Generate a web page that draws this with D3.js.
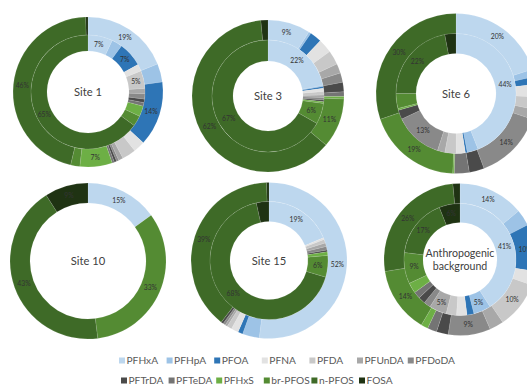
<!DOCTYPE html>
<html><head><meta charset="utf-8">
<script src="https://cdn.jsdelivr.net/npm/d3@7"></script>
<style>body{margin:0;background:#fff;overflow:hidden} svg{display:block}</style>
</head><body>
<svg id="c" width="527" height="386"></svg>
<script>
// ---------- data ----------
const categories = ["PFHxA","PFHpA","PFOA","PFNA","PFDA","PFUnDA","PFDoDA","PFTrDA","PFTeDA","PFHxS","br-PFOS","n-PFOS","FOSA"];
const colors = ["#BDD7EE","#9DC3E6","#2E75B6","#E2E2E2","#C8C8C8","#A8A8A8","#898989","#4A4A4A","#747474","#6DAF45","#548B33","#3E6A27","#1F3313"];
const siteNames = ["Site 1","Site 3","Site 6","Site 10","Site 15","Anthropogenic background"];

const site1Outer = [19, 4, 14, 2.5, 3, 1, 0.5, 0.5, 0.5, 7, 2, 46, 0.5];
const site1Inner = [7, 3, 7, 2, 5, 1.5, 1.5, 1, 1, 3, 3, 65, 0];
const site3Outer = [9, 0.5, 2.5, 3, 3, 2, 2, 2, 1, 0.5, 10.5, 62, 1.5];
const site3Inner = [22, 0.3, 0.5, 1, 1, 0.7, 0.7, 0.5, 0, 0.5, 6, 67, 0];
const site6Outer = [20, 1.5, 1.5, 2.5, 2.5, 2, 14, 3, 3, 0.3, 19, 30, 0];
const site6Inner = [44, 3, 0.5, 2.5, 3, 2, 13, 2.5, 0, 0.5, 4, 22, 3];
const site10Outer = [15, 0, 0, 0, 0, 0, 0, 0, 0, 0, 33, 43, 9];
const site15Outer = [52, 3.5, 1, 1.5, 1, 0.5, 0.5, 0.5, 0, 0, 0, 39, 0.5];
const site15Inner = [19, 0, 0, 0.5, 1, 1, 1, 0.5, 0, 1, 6, 68, 3.5];
const anthroOuter = [14, 3.5, 10, 3, 10, 3, 9, 2.5, 2, 1.5, 14, 26, 1.5];
const anthroInner = [41, 5, 2, 3, 3, 5, 2, 2, 2, 3, 9, 17, 6];

// ---------- layout ----------
const charts = [
  {name: siteNames[0], outer: site1Outer, inner: site1Inner, cx: 88, cy: 92, r0: 41, r1: 57, r2: 75},
  {name: siteNames[1], outer: site3Outer, inner: site3Inner, cx: 268, cy: 96, r0: 35, r1: 56, r2: 76},
  {name: siteNames[2], outer: site6Outer, inner: site6Inner, cx: 456, cy: 93.5, r0: 40, r1: 60, r2: 80},
  {name: siteNames[3], outer: site10Outer, inner: null, cx: 88, cy: 261, r0: 58, r1: 58, r2: 78},
  {name: siteNames[4], outer: site15Outer, inner: site15Inner, cx: 269, cy: 260.5, r0: 39, r1: 59, r2: 78},
  {name: siteNames[5], outer: anthroOuter, inner: anthroInner, cx: 460, cy: 259.5, r0: 37, r1: 56, r2: 76}
];

const svg = d3.select("#c");
const color = d3.scaleOrdinal().domain(categories).range(colors);
const pie = d3.pie().sort(null).value(d => d.v);
const FONT = "Lato, 'Open Sans', sans-serif";

function drawRing(g, values, rIn, rOut) {
  const data = values.map((v, i) => ({cat: categories[i], v}));
  const arcs = pie(data).filter(a => a.data.v > 0);
  const arc = d3.arc().innerRadius(rIn).outerRadius(rOut);
  g.selectAll(null).data(arcs).enter().append("path")
    .attr("d", arc)
    .attr("fill", d => color(d.data.cat))
    .attr("stroke", "#ffffff").attr("stroke-width", 0.35).attr("stroke-opacity", 0.3);
  g.selectAll(null).data(arcs.filter(a => a.data.v >= 5)).enter().append("text")
    .attr("transform", d => `translate(${arc.centroid(d)})`)
    .attr("text-anchor", "middle").attr("dy", "0.35em")
    .attr("font-family", FONT).attr("font-size", 6.8).attr("fill", "#333333")
    .text(d => Math.round(d.data.v) + "%");
}

charts.forEach(c => {
  const g = svg.append("g").attr("transform", `translate(${c.cx},${c.cy})`);
  drawRing(g, c.outer, c.r1, c.r2);
  if (c.inner) drawRing(g, c.inner, c.r0, c.r1);
  const words = c.name.length > 12 ? ["Anthropogenic", "background"] : [c.name];
  const t = g.append("text").attr("text-anchor", "middle")
    .attr("font-family", FONT).attr("font-size", words.length > 1 ? 10.6 : 11.2).attr("fill", "#404040");
  words.forEach((w, i) => {
    t.append("tspan").attr("x", 0)
      .attr("y", (i - (words.length - 1) / 2) * 13.5 + 4)
      .text(w);
  });
});

// ---------- legend ----------
const leg = svg.append("g").attr("font-family", FONT).attr("font-size", 10.2).attr("fill", "#595959");
const rows = [categories.slice(0, 7), categories.slice(7)];
const rowY = [361, 381];
rows.forEach((row, ri) => {
  let prevEnd = 0;
  row.forEach((cat, i) => {
    let x = (ri === 0 ? 119 : 121) + i * 47.6;
    if (i === 6) x = prevEnd + 4;
    const it = leg.append("g").attr("transform", `translate(${x},${rowY[ri]})`);
    it.append("rect").attr("x", 0).attr("y", -3.5).attr("width", 6).attr("height", 6).attr("fill", color(cat));
    const tx = it.append("text").attr("x", 7.5).attr("dy", "0.33em").text(cat);
    prevEnd = x + 7.5 + tx.node().getComputedTextLength();
  });
});
</script>
</body></html>
